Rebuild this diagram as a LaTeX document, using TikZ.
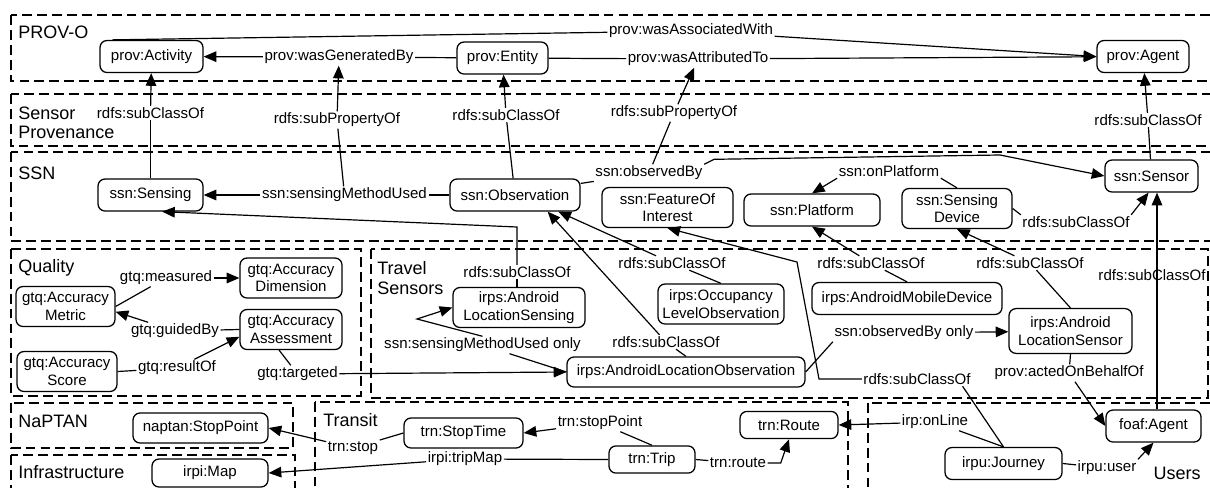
\documentclass[tikz,border=0pt]{standalone}
\usepackage{fontspec}
\setmainfont{Liberation Sans}
\usetikzlibrary{arrows.meta}

\newcommand{\nodefont}{\fontsize{10.7}{12.5}\selectfont}
\newcommand{\groupfont}{\fontsize{12.8}{13.6}\selectfont}

\begin{document}
\begin{tikzpicture}[
    x=0.025cm, y=-0.025cm,
    >={Triangle[length=9pt, width=7.5pt]},
    cls/.style={
        draw, line width=0.9pt, rounded corners=5pt, fill=white,
        align=center, font=\nodefont, inner sep=1pt,
        minimum width=#1*0.025cm, minimum height=0.8cm
    },
    tall/.style={minimum height=1cm},
    rel/.style={font=\nodefont, inner sep=1pt},
    grp/.style={draw, line width=0.9pt, dash pattern=on 7pt off 3.6pt},
    grplabel/.style={font=\groupfont, anchor=west, align=left, inner sep=0pt},
    ln/.style={line width=0.85pt},
    arr/.style={->, line width=0.85pt},
]
\useasboundingbox (0,0) rectangle (1210,487);

%% Groups
\draw[grp] (11,15)   rectangle (1230,81);
\draw[grp] (11,94)   rectangle (1230,146);
\draw[grp] (11,152)  rectangle (1230,241);
\draw[grp] (11,249)  rectangle (361,396);
\draw[grp] (371,249) rectangle (1208,398);
\draw[grp] (11,403)  rectangle (293,448);
\draw[grp] (11,455)  rectangle (295,510);
\draw[grp] (315,402) rectangle (848,510);
\draw[grp] (868,403) rectangle (1230,510);

\node[grplabel] (gprov)    at (18,32)    {PROV-O};
\node[grplabel] (gsprov)   at (18,122.5) {Sensor\\Provenance};
\node[grplabel] (gssn)     at (18,173)   {SSN};
\node[grplabel] (gqual)    at (18,268)   {Quality};
\node[grplabel] (gtravel)  at (377,278)  {Travel\\Sensors};
\node[grplabel] (gnaptan)  at (18,421)   {NaPTAN};
\node[grplabel] (ginfra)   at (18,472)   {Infrastructure};
\node[grplabel] (gtransit) at (323,420)  {Transit};
\node[grplabel, anchor=east] (gusers) at (1201,473) {Users};

%% PROV-O
\node[cls=103] (activity)  at (151.5,56.5) {prov:Activity};
\node[cls=91]  (entity)    at (502.5,58)   {prov:Entity};
\node[cls=92]  (provagent) at (1143,56.5)  {prov:Agent};

%% SSN
\node[cls=105] (sensing)       at (150.5,195)   {ssn:Sensing};
\node[cls=130] (observation)   at (515,195)     {ssn:Observation};
\node[cls=131, tall] (foi)     at (667.5,207.5) {ssn:FeatureOf\\Interest};
\node[cls=136] (platform)      at (812,210)     {ssn:Platform};
\node[cls=110, tall] (sensdev) at (957,208.5)   {ssn:Sensing\\Device};
\node[cls=93]  (sensor)        at (1151.5,176)  {ssn:Sensor};

%% Quality
\node[cls=99, tall]  (accmetric) at (65.5,306.5) {gtq:Accuracy\\Metric};
\node[cls=102, tall] (accdim)    at (291,278)    {gtq:Accuracy\\Dimension};
\node[cls=102, tall] (accassess) at (291,329.5)  {gtq:Accuracy\\Assessment};
\node[cls=100, tall] (accscore)  at (67,371.5)   {gtq:Accuracy\\Score};

%% Travel sensors
\node[cls=132, tall] (andsensing) at (519,307.5) {irps:Android\\LocationSensing};
\node[cls=126, tall] (occobs)     at (721,304)   {irps:Occupancy\\LevelObservation};
\node[cls=190]       (mobiledev)  at (907,298.5) {irps:AndroidMobileDevice};
\node[cls=123, minimum height=1.12cm] (andsensor) at (1070.5,331) {irps:Android\\LocationSensor};
\node[cls=238, minimum height=0.75cm] (andobs)    at (686,372)    {irps:AndroidLocationObservation};

%% NaPTAN, infrastructure, transit, users
\node[cls=135, minimum height=0.75cm] (stoppoint) at (200.5,428) {naptan:StopPoint};
\node[cls=116, minimum height=0.7cm]  (map)       at (210,473)   {irpi:Map};
\node[cls=119, minimum height=0.75cm] (stoptime)  at (463.5,433) {trn:StopTime};
\node[cls=86,  minimum height=0.68cm] (trip)      at (652,459.5) {trn:Trip};
\node[cls=98,  minimum height=0.68cm] (route)     at (789,425)   {trn:Route};
\node[cls=117] (journey)   at (1003.5,463.5) {irpu:Journey};
\node[cls=95]  (foafagent) at (1153.5,426)   {foaf:Agent};

%% Relation labels
\node[rel] (wasGenBy)      at (339,57)    {prov:wasGeneratedBy};
\node[rel] (wasAttrTo)     at (698,59)    {prov:wasAttributedTo};
\node[rel] (wasAssocWith)  at (691,31)    {prov:wasAssociatedWith};
\node[rel] (subAct)        at (150.5,113) {rdfs:subClassOf};
\node[rel] (subPropGen)    at (337,120)   {rdfs:subPropertyOf};
\node[rel] (subEnt)        at (506,115)   {rdfs:subClassOf};
\node[rel] (subPropAttr)   at (674,113)   {rdfs:subPropertyOf};
\node[rel] (subAgent)      at (1148,120)  {rdfs:subClassOf};
\node[rel] (methodUsed)    at (344.5,195) {ssn:sensingMethodUsed};
\node[rel] (observedBy)    at (649,173)   {ssn:observedBy};
\node[rel] (onPlatform)    at (889,171)   {ssn:onPlatform};
\node[rel] (subSensorDev)  at (1076,222)  {rdfs:subClassOf};
\node[rel] (subPlatform)   at (871,263)   {rdfs:subClassOf};
\node[rel] (subSensDev)    at (1030,263)  {rdfs:subClassOf};
\node[rel] (subSensorFoaf) at (1152,275)  {rdfs:subClassOf};
\node[rel] (subSensing)    at (517,272)   {rdfs:subClassOf};
\node[rel] (subObsOcc)     at (672,263)   {rdfs:subClassOf};
\node[rel] (subObsAnd)     at (666,342)   {rdfs:subClassOf};
\node[rel] (subFoi)        at (917,379)   {rdfs:subClassOf};
\node[rel] (methodOnly)    at (482.5,345) {ssn:sensingMethodUsed only};
\node[rel] (observedOnly)  at (904,333)   {ssn:observedBy only};
\node[rel] (behalfLbl)     at (1069,373)  {prov:actedOnBehalfOf};
\node[rel] (measured)      at (166,278)   {gtq:measured};
\node[rel] (guidedBy)      at (175,331)   {gtq:guidedBy};
\node[rel] (resultOf)      at (177,368)   {gtq:resultOf};
\node[rel] (targeted)      at (297.5,374) {gtq:targeted};
\node[rel] (stopLbl)       at (353,448)   {trn:stop};
\node[rel] (stopPointLbl)  at (600,423)   {trn:stopPoint};
\node[rel] (tripMapLbl)    at (465,459)   {irpi:tripMap};
\node[rel] (routeLbl)      at (738,463)   {trn:route};
\node[rel] (onLineLbl)     at (935,422)   {irp:onLine};
\node[rel] (userLbl)       at (1107,468)  {irpu:user};

%% PROV-O relations
\draw[ln]  (entity) -- (wasGenBy);
\draw[arr] (wasGenBy) -- (activity);
\draw[ln]  (entity) -- (wasAttrTo);
\draw[arr] (wasAttrTo) -- (provagent);
\draw[ln]  (activity.157) -- (wasAssocWith);
\draw[arr] (wasAssocWith) -- (provagent.west);

%% Sensor provenance
\draw[ln]  (sensing) -- (subAct);
\draw[arr] (subAct) -- (activity);
\draw[ln]  (methodUsed) -- (subPropGen);
\draw[arr] (subPropGen) -- (wasGenBy);
\draw[ln]  (observation) -- (subEnt);
\draw[arr] (subEnt) -- (entity);
\draw[ln]  (observedBy) -- (subPropAttr);
\draw[arr] (subPropAttr) -- (wasAttrTo);
\draw[ln]  (sensor) -- (subAgent);
\draw[arr] (subAgent) -- (provagent);

%% SSN
\draw[ln]  (observation) -- (methodUsed);
\draw[arr] (methodUsed) -- (sensing);
\draw[ln]  (observation.10) -- (observedBy);
\draw[arr] (observedBy.north east) -- ++(10,-5) -- (1000,155) -- (sensor.west);
\draw[ln]  (sensdev.north) -- (onPlatform.south east);
\draw[arr] (onPlatform.south west) -- (platform.north);
\draw[ln]  (sensdev.east) -- (subSensorDev.north west);
\draw[arr] (subSensorDev.north east) -- (sensor.-100);
\draw[ln]  (mobiledev.north) -- (subPlatform);
\draw[arr] (subPlatform) -- (platform.south);
\draw[ln]  (andsensor.north) -- (subSensDev);
\draw[arr] (subSensDev) -- (sensdev.south);
\draw[ln]  (foafagent.north -| 1157,0) -- (subSensorFoaf.north -| 1157,0);
\draw[arr] (subSensorFoaf.north -| 1157,0) -- (sensor.south -| 1157,0);

%% Travel sensors
\draw[ln]  (andsensing.north -| subSensing) -- (subSensing);
\draw[arr] (subSensing) -- (517,227) -- (sensing.-55);
\draw[ln]  (occobs.north) -- (subObsOcc);
\draw[arr] (subObsOcc) -- (observation.-21);
\draw[ln]  (andobs.north) -- (subObsAnd);
\draw[arr] (subObsAnd) -- (observation.-27);
\draw[ln]  (journey.north) -- (subFoi.-9);
\draw[arr] (subFoi.west) -- (819,379) -- (797,262) -- (foi.south);
\draw[ln]  (andobs.west) -- (methodOnly);
\draw[arr] (methodOnly.north) -- (417,319) -- (andsensing.west);
\draw[ln]  (andobs.east) -- (observedOnly.south west);
\draw[arr] (observedOnly) -- (andsensor);
\draw[ln]  (andsensor.south) -- (behalfLbl);
\draw[arr] (behalfLbl) -- (foafagent.west);

%% Quality
\draw[ln]  (accmetric.east) -- (measured);
\draw[arr] (measured) -- (accdim);
\draw[ln]  (accassess.west) -- (guidedBy);
\draw[arr] (guidedBy) -- (accmetric.-6);
\draw[ln]  (accscore.east) -- (resultOf);
\draw[arr] (resultOf) -- (accassess.-172);
\draw[ln]  (accassess.-120) -- (targeted);
\draw[arr] (targeted) -- (andobs.west);

%% Transit
\draw[ln]  (stoptime.west) -- (stopLbl);
\draw[arr] (stopLbl) -- (stoppoint.east);
\draw[ln]  (trip.north) -- (stopPointLbl);
\draw[arr] (stopPointLbl) -- (stoptime.east);
\draw[ln]  (trip.west) -- (tripMapLbl);
\draw[arr] (tripMapLbl) -- (map.east);
\draw[ln]  (trip.east) -- (routeLbl);
\draw[arr] (routeLbl.east) -- ++(13,0) -- (route.south);

%% Users
\draw[ln]  (journey.north) -- (onLineLbl);
\draw[arr] (onLineLbl) -- (route.east);
\draw[ln]  (journey.east) -- (userLbl);
\draw[arr] (userLbl.north east) -- (foafagent.south);

\end{tikzpicture}
\end{document}
